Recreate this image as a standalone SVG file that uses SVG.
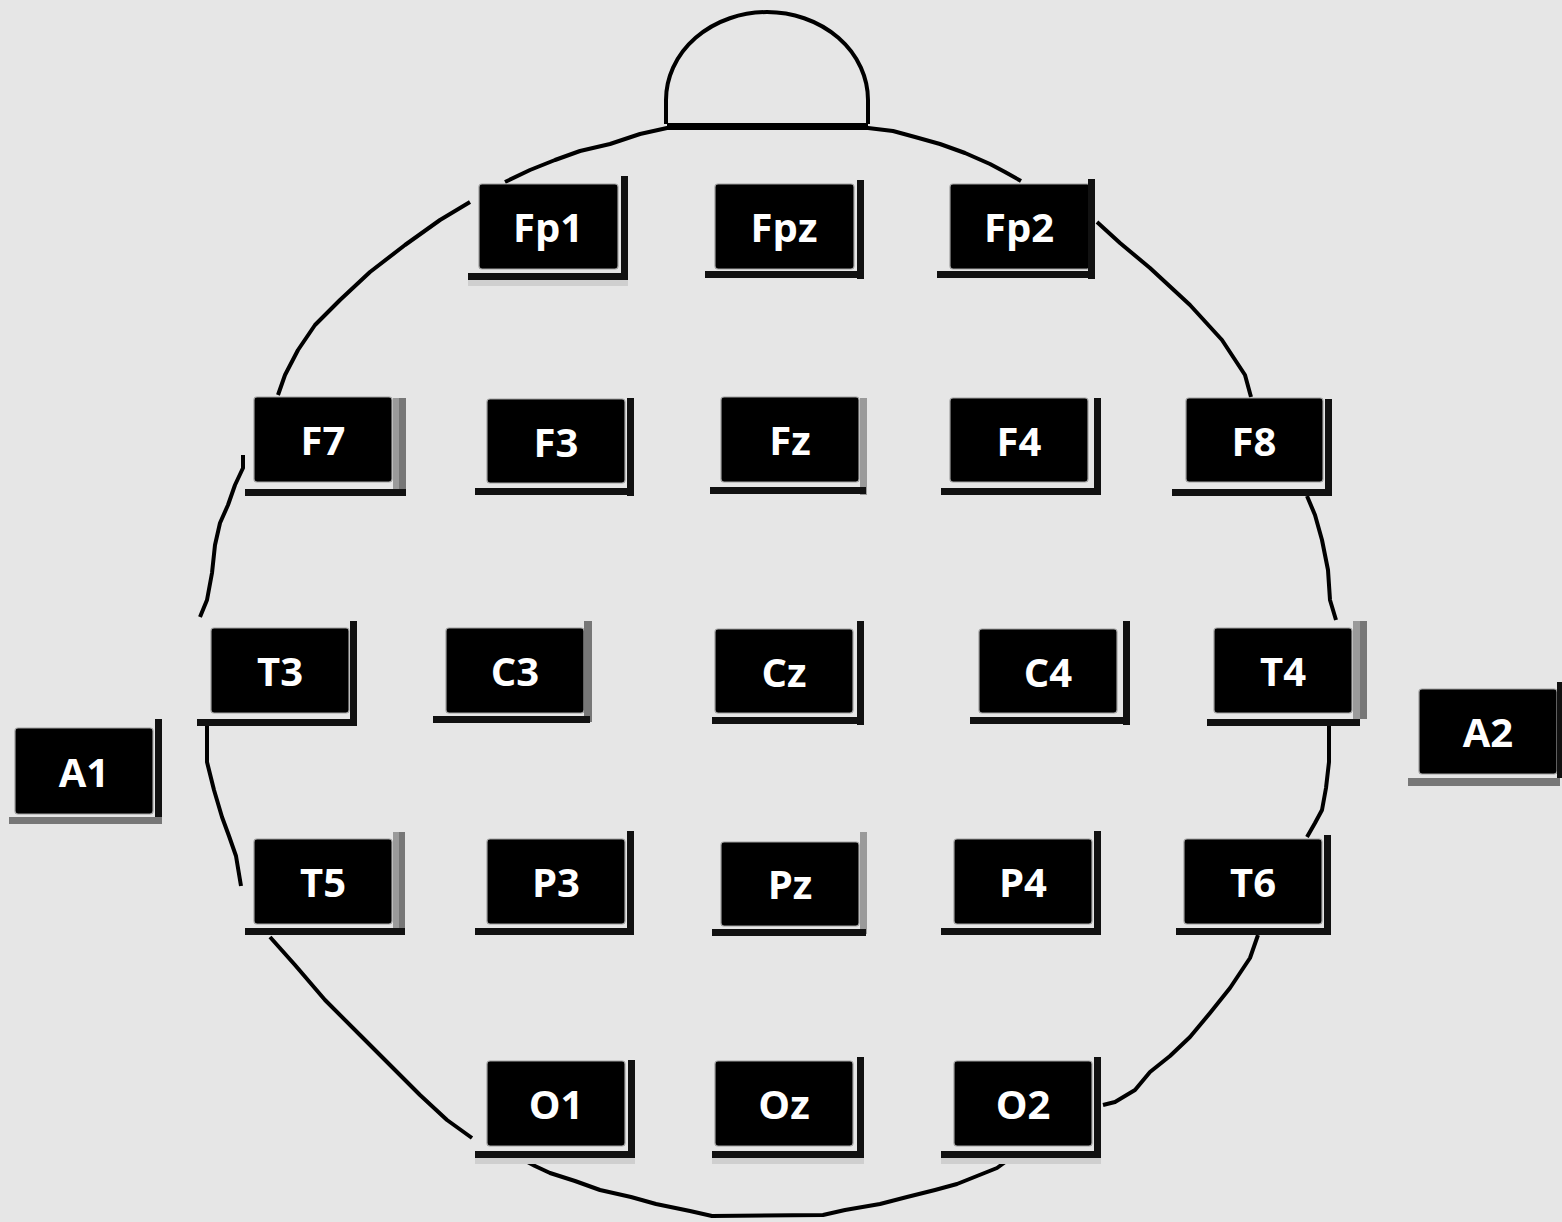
<svg xmlns="http://www.w3.org/2000/svg" width="1562" height="1222" viewBox="0 0 1562 1222">
<style>
.bg{fill:#e6e6e6}
.box{fill:#000;stroke:#a0a0a0;stroke-width:1.2}
.bar{fill:#111}
.barg{fill:#777}
.barl{fill:#9a9a9a}
.sh{fill:#cfcfcf}
.lbl{font-family:"Open Sans","Liberation Sans",sans-serif;font-weight:700;font-size:40px;fill:#fff;text-anchor:middle}
.head{fill:none;stroke:#000;stroke-width:4;stroke-linejoin:round;stroke-linecap:butt}
</style>
<rect class="bg" x="0" y="0" width="1562" height="1222"/>
<g id="head-outline">
<path class="head" d="M666,124 L666,100 A101,88 0 0 1 868,100 L868,124"/>
<path class="head" style="stroke-width:6" d="M667,126 L868,126"/>
<path class="head" d="M505,182 L530,170 L555,160 L580,151 L610,144 L640,134 L667,128 L868,128 L893,131 L915,137 L940,144 L965,153 L990,164 L1005,172 L1021,181"/>
<path class="head" d="M1097,222 L1120,243 L1150,268 L1190,305 L1222,340 L1245,375 L1251,397"/>
<path class="head" d="M1307,496 L1315,515 L1322,540 L1328,570 L1330,600 L1336,620"/>
<path class="head" d="M1329,719 L1329,762 L1326,788 L1322,810 L1315,823 L1307,837"/>
<path class="head" d="M1258,935 L1250,958 L1230,988 L1210,1013 L1190,1037 L1170,1056 L1150,1072 L1135,1090 L1115,1102 L1103,1105"/>
<path class="head" d="M1008,1160 L997,1168 L977,1176 L957,1184 L935,1190 L907,1197 L880,1204 L845,1210 L823,1215 L712,1216 L690,1211 L656,1204 L631,1197 L600,1190 L575,1181 L550,1173 L535,1166 L520,1158"/>
<path class="head" d="M472,1138 L447,1120 L420,1095 L390,1065 L360,1035 L325,1000 L295,965 L270,937"/>
<path class="head" d="M241,886 L236,856 L229,836 L222,817 L214,790 L207,762 L207,719"/>
<path class="head" d="M200,617 L207,600 L212,573 L215,545 L220,523 L228,505 L235,485 L243,468 L243,455"/>
<path class="head" d="M278,395 L285,375 L298,350 L315,325 L340,300 L370,272 L405,245 L440,220 L470,202"/>
</g>
<g id="Fp1"><rect class="sh" x="468" y="280" width="160" height="6"/><rect class="box" x="479" y="184" width="139" height="85" rx="3"/><rect class="bar" x="621" y="176" width="7" height="104"/><rect class="bar" x="468" y="273" width="160" height="7"/><text class="lbl" x="548" y="242">Fp1</text></g>
<g id="Fpz"><rect class="box" x="715" y="184" width="139" height="85" rx="3"/><rect class="bar" x="857" y="180" width="7" height="99"/><rect class="bar" x="705" y="271" width="159" height="7"/><text class="lbl" x="784" y="242">Fpz</text></g>
<g id="Fp2"><rect class="box" x="950" y="184" width="140" height="85" rx="3"/><rect class="bar" x="1088" y="179" width="7" height="100"/><rect class="bar" x="937" y="271" width="158" height="7"/><text class="lbl" x="1019" y="242">Fp2</text></g>
<g id="F7"><rect class="box" x="254" y="397" width="138" height="85" rx="3"/><rect class="barl" x="393" y="398" width="7" height="97"/><rect class="barg" x="399" y="398" width="7" height="97"/><rect class="bar" x="245" y="489" width="161" height="7"/><text class="lbl" x="323" y="455">F7</text></g>
<g id="F3"><rect class="box" x="487" y="399" width="138" height="84" rx="3"/><rect class="bar" x="627" y="398" width="7" height="98"/><rect class="bar" x="475" y="488" width="159" height="7"/><text class="lbl" x="556" y="457">F3</text></g>
<g id="Fz"><rect class="box" x="721" y="397" width="138" height="85" rx="3"/><rect class="barl" x="860" y="398" width="7" height="97"/><rect class="bar" x="710" y="487" width="156" height="7"/><text class="lbl" x="790" y="455">Fz</text></g>
<g id="F4"><rect class="box" x="950" y="398" width="138" height="84" rx="3"/><rect class="bar" x="1094" y="398" width="7" height="97"/><rect class="bar" x="941" y="488" width="160" height="7"/><text class="lbl" x="1019" y="456">F4</text></g>
<g id="F8"><rect class="box" x="1186" y="398" width="137" height="84" rx="3"/><rect class="bar" x="1325" y="399" width="7" height="97"/><rect class="bar" x="1172" y="489" width="160" height="7"/><text class="lbl" x="1254" y="456">F8</text></g>
<g id="T3"><rect class="box" x="211" y="628" width="138" height="85" rx="3"/><rect class="bar" x="350" y="621" width="7" height="104"/><rect class="bar" x="197" y="719" width="160" height="7"/><text class="lbl" x="280" y="686">T3</text></g>
<g id="C3"><rect class="box" x="446" y="628" width="138" height="85" rx="3"/><rect class="barg" x="584" y="621" width="8" height="101"/><rect class="bar" x="433" y="716" width="157" height="7"/><text class="lbl" x="515" y="686">C3</text></g>
<g id="Cz"><rect class="box" x="715" y="629" width="138" height="84" rx="3"/><rect class="bar" x="857" y="621" width="7" height="104"/><rect class="bar" x="712" y="717" width="152" height="7"/><text class="lbl" x="784" y="687">Cz</text></g>
<g id="C4"><rect class="box" x="979" y="629" width="138" height="84" rx="3"/><rect class="bar" x="1123" y="621" width="7" height="104"/><rect class="bar" x="970" y="717" width="160" height="7"/><text class="lbl" x="1048" y="687">C4</text></g>
<g id="T4"><rect class="box" x="1214" y="628" width="138" height="85" rx="3"/><rect class="barl" x="1353" y="621" width="7" height="98"/><rect class="barg" x="1360" y="621" width="7" height="98"/><rect class="bar" x="1207" y="719" width="153" height="7"/><text class="lbl" x="1283" y="686">T4</text></g>
<g id="A1"><rect class="box" x="15" y="728" width="138" height="86" rx="3"/><rect class="bar" x="155" y="719" width="7" height="105"/><rect class="barg" x="9" y="817" width="153" height="7"/><text class="lbl" x="84" y="787">A1</text></g>
<g id="A2"><rect class="box" x="1419" y="689" width="138" height="85" rx="3"/><rect class="bar" x="1557" y="682" width="5" height="96"/><rect class="barg" x="1408" y="778" width="152" height="8"/><text class="lbl" x="1488" y="747">A2</text></g>
<g id="T5"><rect class="box" x="254" y="839" width="138" height="85" rx="3"/><rect class="barl" x="393" y="832" width="6" height="102"/><rect class="barg" x="399" y="832" width="6" height="102"/><rect class="bar" x="245" y="928" width="160" height="7"/><text class="lbl" x="323" y="897">T5</text></g>
<g id="P3"><rect class="box" x="487" y="839" width="138" height="85" rx="3"/><rect class="bar" x="627" y="831" width="7" height="103"/><rect class="bar" x="475" y="928" width="159" height="7"/><text class="lbl" x="556" y="897">P3</text></g>
<g id="Pz"><rect class="box" x="721" y="842" width="138" height="84" rx="3"/><rect class="barl" x="860" y="832" width="7" height="102"/><rect class="bar" x="712" y="929" width="154" height="7"/><text class="lbl" x="790" y="899">Pz</text></g>
<g id="P4"><rect class="box" x="954" y="839" width="138" height="85" rx="3"/><rect class="bar" x="1094" y="831" width="7" height="103"/><rect class="bar" x="941" y="928" width="160" height="7"/><text class="lbl" x="1023" y="897">P4</text></g>
<g id="T6"><rect class="box" x="1184" y="839" width="138" height="85" rx="3"/><rect class="bar" x="1324" y="835" width="7" height="99"/><rect class="bar" x="1176" y="928" width="155" height="7"/><text class="lbl" x="1253" y="897">T6</text></g>
<g id="O1"><rect class="sh" x="475" y="1158" width="160" height="6"/><rect class="box" x="487" y="1061" width="138" height="85" rx="3"/><rect class="bar" x="628" y="1060" width="7" height="98"/><rect class="bar" x="475" y="1151" width="160" height="7"/><text class="lbl" x="556" y="1119">O1</text></g>
<g id="Oz"><rect class="sh" x="712" y="1158" width="152" height="6"/><rect class="box" x="715" y="1061" width="138" height="85" rx="3"/><rect class="bar" x="857" y="1057" width="7" height="101"/><rect class="bar" x="712" y="1151" width="152" height="7"/><text class="lbl" x="784" y="1119">Oz</text></g>
<g id="O2"><rect class="sh" x="941" y="1158" width="160" height="6"/><rect class="box" x="954" y="1061" width="138" height="85" rx="3"/><rect class="bar" x="1094" y="1057" width="7" height="101"/><rect class="bar" x="941" y="1151" width="160" height="7"/><text class="lbl" x="1023" y="1119">O2</text></g>
</svg>
